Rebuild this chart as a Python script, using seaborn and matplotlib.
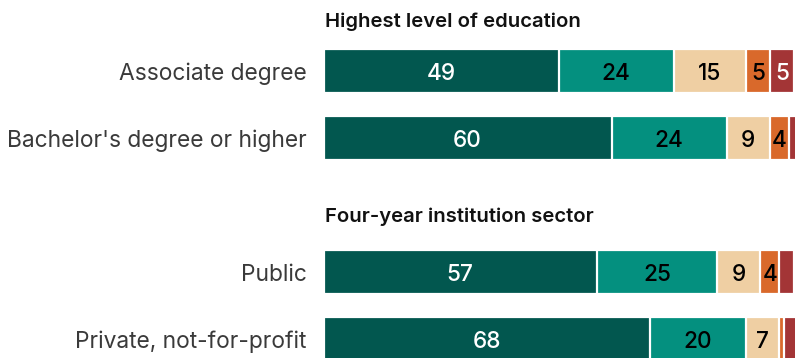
import numpy as np
import pandas as pd
import matplotlib
matplotlib.use("Agg")
import matplotlib.pyplot as plt
import seaborn as sns

# Survey shares (percent) per group, split into five response levels
groups = ["Associate degree", "Bachelor's degree or higher", "Public", "Private, not-for-profit"]
row_pos = [0, 1, 3, 4]
level_1 = [49, 60, 57, 68]
level_2 = [24, 24, 25, 20]
level_3 = [15, 9, 9, 7]
level_4 = [5, 4, 4, 1]
level_5 = [5, 3, 3, 3]
section_titles = ["Highest level of education", "Four-year institution sector"]
section_title_pos = [-0.657, 2.25]

levels = [level_1, level_2, level_3, level_4, level_5]
colors = ["#02574f", "#04907f", "#efcfa3", "#d9692b", "#a33536"]
text_colors = ["white", "black", "black", "black", "white"]

sns.set_style("white")
plt.rcParams["font.family"] = ["Inter", "DejaVu Sans"]

W, H = 795, 358
fig = plt.figure(figsize=(W / 100, H / 100), dpi=100)
px_per_unit = 4.8
left_px = 323.5
ax = fig.add_axes([left_px / W, 0, 100 * px_per_unit / W, 1])

vals = np.array(levels, dtype=float)  # shape (levels, groups)
cum = vals.cumsum(axis=0)

# stacked bars drawn back to front as cumulative totals
for k in range(len(levels) - 1, -1, -1):
    df = pd.DataFrame({"pos": row_pos, "total": cum[k]})
    sns.barplot(data=df, x="total", y="pos", orient="h", native_scale=True,
                color=colors[k], saturation=1, width=0.655,
                edgecolor="white", linewidth=1.6, ax=ax)

# value labels in the middle of each segment
for k in range(len(levels)):
    starts = cum[k] - vals[k]
    for i, y in enumerate(row_pos):
        v = vals[k][i]
        if v >= 4:
            ax.text(starts[i] + v / 2, y, f"{int(v)}", ha="center", va="center_baseline",
                    fontsize=16.3, fontweight="medium", color=text_colors[k])

for title, y in zip(section_titles, section_title_pos):
    ax.text(0.3, y, title, ha="left", va="baseline", fontsize=14.6,
            fontweight="semibold", color="#111111")

top_r = -71 / 67
bot_r = (H - 71) / 67
ax.set_ylim(bot_r, top_r)
ax.set_xlim(0, 100)
ax.set_yticks(row_pos)
ax.set_yticklabels(groups, fontsize=16.4, color="#3a3a3a")
ax.tick_params(axis="y", length=0, pad=12)
ax.set_xticks([])
ax.set_xlabel("")
ax.set_ylabel("")
for s in ax.spines.values():
    s.set_visible(False)

fig.savefig("out.png", dpi=100)
